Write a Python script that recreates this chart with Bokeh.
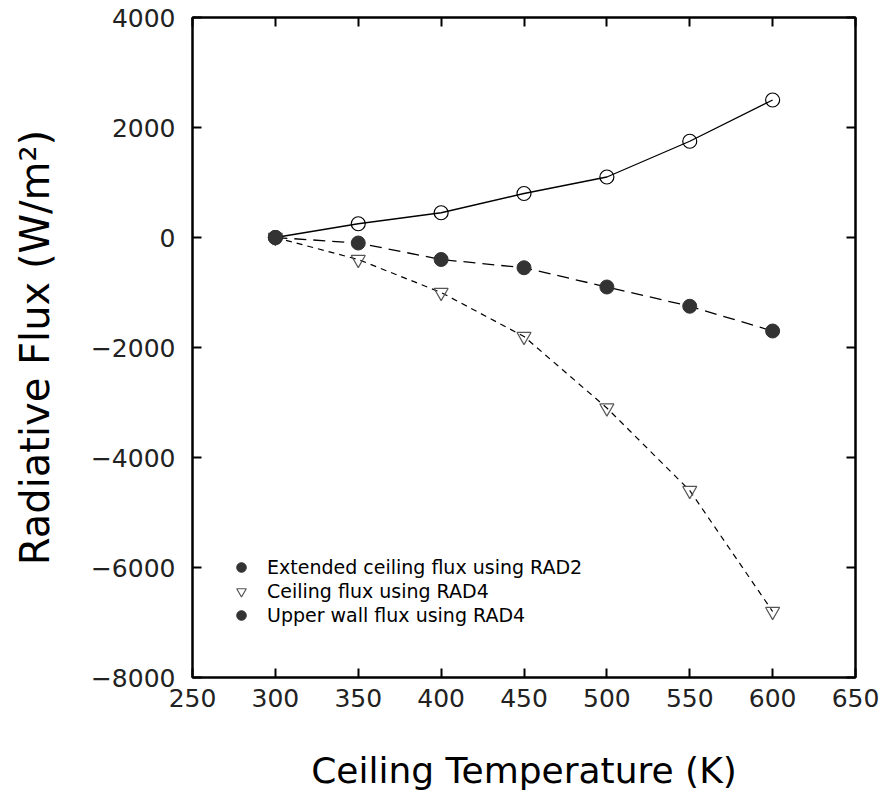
from bokeh.plotting import figure
from bokeh.models import (Range1d, FixedTicker, LinearAxis, Legend, LegendItem)
from bokeh.embed import file_html
from bokeh.resources import INLINE

# Ceiling temperature (K)
temperature = [300, 350, 400, 450, 500, 550, 600]

# Radiative flux (W/m^2)
extended_ceiling_rad2 = [0, 250, 450, 800, 1100, 1750, 2500]
ceiling_rad4 = [0, -400, -1000, -1800, -3100, -4600, -6800]
upper_wall_rad4 = [0, -100, -400, -550, -900, -1250, -1700]

series_labels = [
    "Extended ceiling flux using RAD2",
    "Ceiling flux using RAD4",
    "Upper wall flux using RAD4",
]

x_ticks = [250, 300, 350, 400, 450, 500, 550, 600, 650]
y_ticks = [-8000, -6000, -4000, -2000, 0, 2000, 4000]
y_tick_labels = ["\u22128000", "\u22126000", "\u22124000", "\u22122000", "0", "2000", "4000"]

FONT = "DejaVu Sans"

p = figure(
    width=884, height=794,
    x_range=Range1d(250, 650), y_range=Range1d(-8000, 4000),
    output_backend="svg", toolbar_location=None,
    min_border_left=192, min_border_right=29,
    min_border_top=17, min_border_bottom=117,
    background_fill_color="white", border_fill_color="white",
)
p.grid.visible = False
p.outline_line_color = "black"
p.outline_line_width = 2

# main axes
xa = p.xaxis[0]
ya = p.yaxis[0]
xa.ticker = FixedTicker(ticks=x_ticks)
ya.ticker = FixedTicker(ticks=y_ticks)
ya.major_label_overrides = {v: s for v, s in zip(y_ticks, y_tick_labels)}
for ax in (xa, ya):
    ax.axis_line_width = 2
    ax.axis_line_color = "black"
    ax.major_tick_in = 9
    ax.major_tick_out = 0
    ax.major_tick_line_width = 2
    ax.minor_tick_line_color = None
    ax.major_label_text_font = FONT
    ax.major_label_text_font_size = "25px"
    ax.major_label_text_color = "#222222"
    ax.axis_label_text_font = FONT
    ax.axis_label_text_font_style = "normal"
    ax.axis_label_text_color = "black"
xa.major_label_standoff = 11
ya.major_label_standoff = 17
xa.axis_label = "Ceiling Temperature (K)"
ya.axis_label = "Radiative Flux (W/m\u00b2)"
xa.axis_label_text_font_size = "36px"
ya.axis_label_text_font_size = "40px"
xa.axis_label_standoff = 40
ya.axis_label_standoff = 30

# mirrored ticks on the top and right edges (no labels)
top = LinearAxis(ticker=FixedTicker(ticks=x_ticks))
right = LinearAxis(ticker=FixedTicker(ticks=y_ticks))
for ax in (top, right):
    ax.axis_line_width = 2
    ax.major_tick_in = 9
    ax.major_tick_out = 0
    ax.major_tick_line_width = 2
    ax.minor_tick_line_color = None
    ax.major_label_text_color = None
    ax.major_label_text_font_size = "1px"
    ax.major_label_standoff = 0
p.add_layout(top, "above")
p.add_layout(right, "right")

# curves
p.line(temperature, extended_ceiling_rad2, line_color="black", line_width=1.3)
p.line(temperature, upper_wall_rad4, line_color="black", line_width=1.3,
       line_dash="12 7")
p.line(temperature, ceiling_rad4, line_color="black", line_width=1.2,
       line_dash="6 5")

# markers
ext_markers = p.scatter(temperature, extended_ceiling_rad2, marker="circle",
                        size=14, fill_color=None, line_color="black",
                        line_width=1.2)
ceil_markers = p.scatter(temperature, ceiling_rad4, marker="inverted_triangle",
                         size=14, fill_color=None, line_color="#555555",
                         line_width=1.2)
wall_markers = p.scatter(temperature, upper_wall_rad4, marker="circle",
                         size=14, fill_color="#333333", line_color="#333333")

legend = Legend(
    items=[
        LegendItem(label=series_labels[0], renderers=[wall_markers]),
        LegendItem(label=series_labels[1], renderers=[ceil_markers]),
        LegendItem(label=series_labels[2], renderers=[wall_markers]),
    ],
    location=(37, 50),
    background_fill_alpha=0, border_line_color=None,
    padding=0, margin=0, spacing=0,
    glyph_width=24, glyph_height=24, label_height=20,
    label_standoff=14,
    label_text_font=FONT, label_text_font_size="19px",
    label_text_color="black",
)
p.add_layout(legend, "center")

open("out.html", "w").write(file_html(p, INLINE))
